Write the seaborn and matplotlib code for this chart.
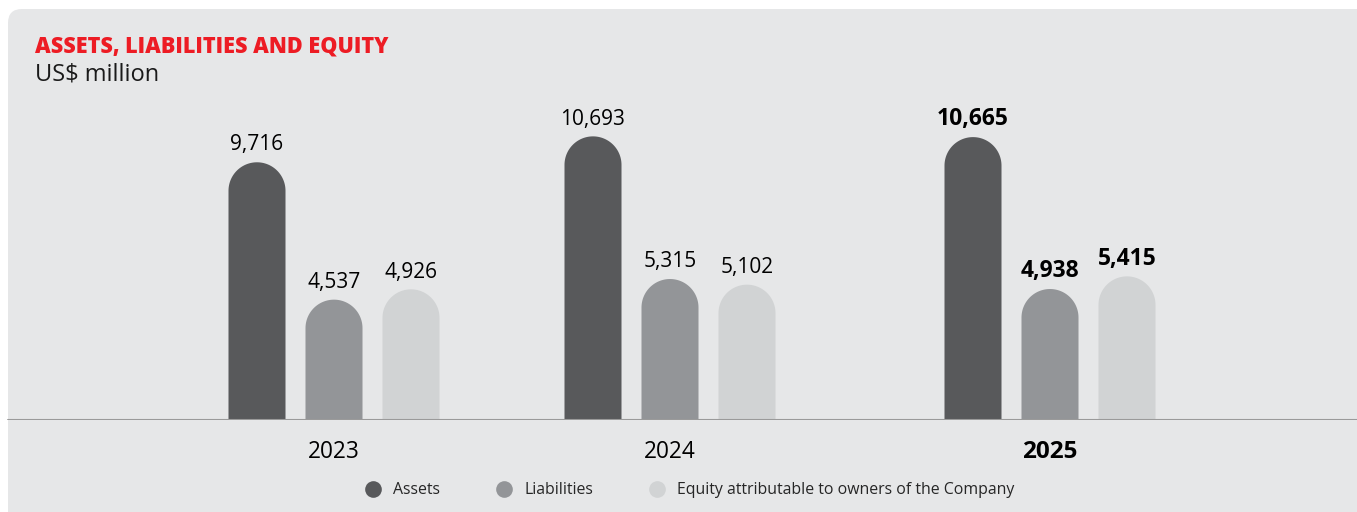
import numpy as np
import pandas as pd
import matplotlib
matplotlib.use("Agg")
import matplotlib.pyplot as plt
import seaborn as sns
from matplotlib.patches import Polygon, FancyBboxPatch
from matplotlib.lines import Line2D

# ---- data ----
years = ["2023", "2024", "2025"]
series = ["Assets", "Liabilities", "Equity attributable to owners of the Company"]
assets = [9716, 10693, 10665]
liabilities = [4537, 5315, 4938]
equity = [4926, 5102, 5415]
colors = ["#58595B", "#939598", "#D1D3D4"]

# ---- layout ----
W, H = 1357, 512
BASE = 420          # baseline, px from top
UPP = 37.7          # value units per pixel
group_centers = [334, 670, 1050]
offset = 77
bar_w = 57

rows = []
for i, yr in enumerate(years):
    for j, (s, vals) in enumerate(zip(series, [assets, liabilities, equity])):
        rows.append(dict(year=yr, series=s, value=vals[i],
                         pos=group_centers[i] + (j - 1) * offset))
df = pd.DataFrame(rows)

sns.set_theme(style="white")
plt.rcParams["font.family"] = ["Open Sans", "DejaVu Sans"]

fig = plt.figure(figsize=(W / 100, H / 100), dpi=100)
fig.patch.set_facecolor("white")

bg = fig.add_axes([0, 0, 1, 1])
bg.set_xlim(0, W)
bg.set_ylim(H, 0)
bg.axis("off")
bg.add_patch(FancyBboxPatch((8, 9), W + 60, H + 60,
                            boxstyle="round,pad=0,rounding_size=14",
                            fc="#E6E7E8", ec="none"))
bg.text(35, 46, "ASSETS, LIABILITIES AND EQUITY", color="#ED1C24",
        fontsize=15.6, fontweight="heavy", va="center")
bg.text(35, 75, "US$ million", color="#1a1a1a", fontsize=17, va="center")

ax = fig.add_axes([0, (H - BASE) / H, 1, BASE / H])
ax.set_facecolor("none")
sns.barplot(data=df, x="pos", y="value", hue="series", palette=colors,
            native_scale=True, dodge=False, width=bar_w / offset,
            saturation=1, legend=False, errorbar=None, ax=ax)
ax.set_xlim(0, W)
ax.set_ylim(0, BASE * UPP)

# rounded tops: replace each bar rectangle with a single capsule-top polygon
theta = np.linspace(np.pi, 0, 60)
for p in list(ax.patches):
    x, w, h = p.get_x(), p.get_width(), p.get_height()
    if h <= 0:
        continue
    rx = w / 2
    ry = rx * UPP
    cx = x + rx
    arc = np.column_stack([cx + rx * np.cos(theta), (h - ry) + ry * np.sin(theta)])
    pts = np.vstack([[x, 0], arc, [x + w, 0]])
    ax.add_patch(Polygon(pts, closed=True, fc=p.get_facecolor(), ec="none",
                         lw=0, zorder=p.get_zorder()))
    p.set_visible(False)
    # value label
    gi = int(np.argmin([abs(cx - c) for c in group_centers]))
    bold = years[gi] == "2025"
    ax.annotate(f"{int(round(h)):,}", (cx, h), xytext=(0, 8.5),
                textcoords="offset points", ha="center", va="baseline",
                fontsize=16.5 if bold else 15, color="black",
                fontweight="bold" if bold else "normal")

ax.axhline(0, xmin=8 / W, xmax=1, color="#9a9a9a", lw=1.5, zorder=5)
ax.set_xticks(group_centers)
ax.set_xticklabels(years, fontsize=16.3, color="black")
for lab in ax.get_xticklabels():
    if lab.get_text() == "2025":
        lab.set_fontweight("bold")
        lab.set_fontsize(17.5)
ax.tick_params(axis="x", length=0, pad=14.5)
ax.set_yticks([])
ax.set_xlabel("")
ax.set_ylabel("")
for s in ax.spines.values():
    s.set_visible(False)

handles = [Line2D([0], [0], marker="o", color="none", markerfacecolor=c,
                  markeredgecolor="none", markersize=12) for c in colors]
fig.legend(handles, series, loc="center", ncol=3, frameon=False,
           bbox_to_anchor=(690 / W, 1 - 490.5 / H), fontsize=11.4,
           handlelength=1.0, handletextpad=0.77, columnspacing=3.55)

fig.savefig("out.png", dpi=100)
